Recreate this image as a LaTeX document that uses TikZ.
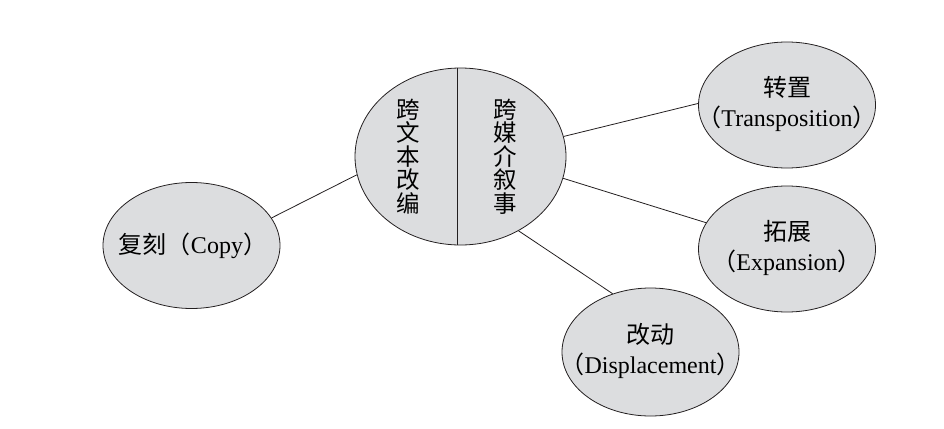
\documentclass[tikz,border=0pt]{standalone}
\usepackage{fontspec}
\setmainfont{Liberation Serif}
\newfontfamily\cjk{Noto Sans CJK SC}
\usetikzlibrary{shapes.geometric,calc}
\definecolor{bubble}{RGB}{220,221,223}
\definecolor{ink}{RGB}{35,31,32}
\begin{document}
\begin{tikzpicture}[x=1pt,y=-1pt,
  bub/.style={ellipse,draw=ink,fill=bubble,line width=0.8pt,inner sep=0pt,
    minimum width=177pt,minimum height=126pt},
  lbl/.style={align=center,inner sep=0pt,font=\fontsize{24}{29.5}\selectfont},
  link/.style={draw=ink,line width=0.8pt},
  vtext/.style={align=center,inner sep=0pt,font=\fontsize{23.5}{23.4}\selectfont\cjk}]
\useasboundingbox (0,0) rectangle (944,428);
\node[bub,minimum width=211pt,minimum height=177pt] (c) at (460.5,156.5) {};
\draw[link] ($(c.north)+(-3.5,0)$) -- ($(c.south)+(-3.5,0)$);
\node[vtext] (lt) at (408,156.5) {跨\\文\\本\\改\\编};
\node[vtext] (rt) at (505,156.5) {跨\\媒\\介\\叙\\事};
\node[bub] (copy) at (191.5,245.5) {};
\node[lbl] (copyt) at (193,246) {{\cjk 复刻（}Copy{\cjk ）}};
\node[bub] (tr) at (787,105) {};
\node[lbl] (trt) at (787,104) {{\cjk 转置}\\{\cjk （}Transposition{\cjk ）}};
\node[bub] (ex) at (787,249) {};
\node[lbl] (ext) at (787,248) {{\cjk 拓展}\\{\cjk （}Expansion{\cjk ）}};
\node[bub,minimum height=128pt] (di) at (650.5,352) {};
\node[lbl] (dit) at (650.5,351) {{\cjk 改动}\\{\cjk （}Displacement{\cjk ）}};
\draw[link] (c.190.7) -- (copy.19.5);
\draw[link] (c.11.8) -- (tr.179.4);
\draw[link] (c.348.9) -- (ex.162.4);
\draw[link] (c.308.6) -- (di.123.3);
\end{tikzpicture}
\end{document}
